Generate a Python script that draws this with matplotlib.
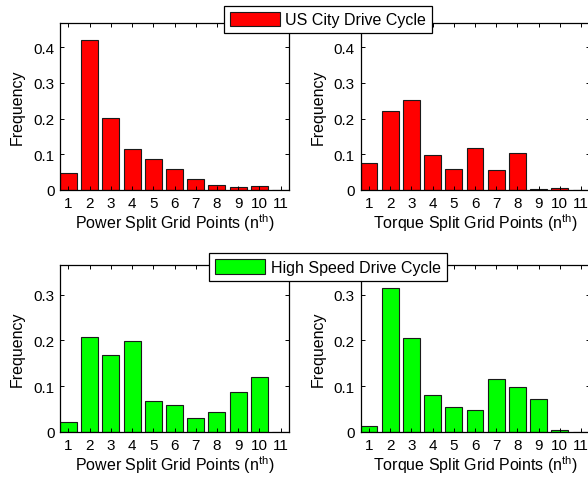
import numpy as np
import matplotlib
matplotlib.use('Agg')
from matplotlib import pyplot as plt

plt.rcParams['font.family'] = ['Liberation Sans', 'DejaVu Sans']
plt.rcParams['mathtext.default'] = 'regular'
plt.rcParams['font.size'] = 11.5

# grid point index on x
grid = np.arange(1, 12)

# frequency of each grid point, US city cycle
city_power = [0.049, 0.419, 0.202, 0.114, 0.088, 0.060, 0.030, 0.015, 0.0075, 0.012, 0.001]
city_torque = [0.077, 0.220, 0.253, 0.099, 0.060, 0.119, 0.057, 0.105, 0.003, 0.006, 0.001]

# frequency of each grid point, high speed cycle
hwy_power = [0.021, 0.208, 0.168, 0.199, 0.067, 0.058, 0.031, 0.044, 0.088, 0.120, 0.001]
hwy_torque = [0.013, 0.315, 0.205, 0.080, 0.054, 0.049, 0.115, 0.098, 0.072, 0.005, 0.001]

city_label = 'US City Drive Cycle'
hwy_label = 'High Speed Drive Cycle'
xlab_power = 'Power Split Grid Points (n$^{th}$)'
xlab_torque = 'Torque Split Grid Points (n$^{th}$)'

W, H = 588, 485
fig = plt.figure(figsize=(W/100, H/100), dpi=100)

def make_ax(x0, y0, x1, y1):
    return fig.add_axes([x0/W, 1-y1/H, (x1-x0)/W, (y1-y0)/H])

def panel(ax, vals, color, xlab, ytop, yticks):
    b = ax.bar(grid, vals, width=0.8, color=color, edgecolor='#1a1a1a', linewidth=0.8)
    ax.set_xlim(0.6, 11.4)
    ax.set_ylim(0, ytop)
    ax.set_xticks(grid)
    ax.set_yticks(yticks)
    ax.set_yticklabels(['0' if t == 0 else '%g' % t for t in yticks])
    ax.tick_params(direction='in', top=True, right=True, length=3, width=0.7,
                   pad=4, labelsize=11)
    ax.tick_params(axis='x', pad=4)
    for s in ax.spines.values():
        s.set_linewidth(0.9)
    ax.set_xlabel(xlab, labelpad=1)
    ax.set_ylabel('Frequency', labelpad=6)
    return b

ax1 = make_ax(60, 24, 289, 191)
ax2 = make_ax(360.5, 24, 589.5, 191)
ax3 = make_ax(60, 266, 289, 433)
ax4 = make_ax(360.5, 266, 589.5, 433)

top_ticks = [0, 0.1, 0.2, 0.3, 0.4]
bot_ticks = [0, 0.1, 0.2, 0.3]

b_city = panel(ax1, city_power, '#ff0000', xlab_power, 0.468, top_ticks)
panel(ax2, city_torque, '#ff0000', xlab_torque, 0.468, top_ticks)
b_hwy = panel(ax3, hwy_power, '#00ff00', xlab_power, 0.365, bot_ticks)
panel(ax4, hwy_torque, '#00ff00', xlab_torque, 0.365, bot_ticks)

for bars, lab, yc in [(b_city, city_label, 20.5), (b_hwy, hwy_label, 268.3)]:
    leg = fig.legend([bars], [lab], loc='center', bbox_to_anchor=(328/W, 1-yc/H),
                     fancybox=False, framealpha=1, edgecolor='black',
                     borderpad=0.38, handlelength=3.13, handleheight=1.03,
                     handletextpad=0.32, borderaxespad=0)
    leg.get_frame().set_linewidth(0.9)

fig.savefig('out.png', dpi=100)
